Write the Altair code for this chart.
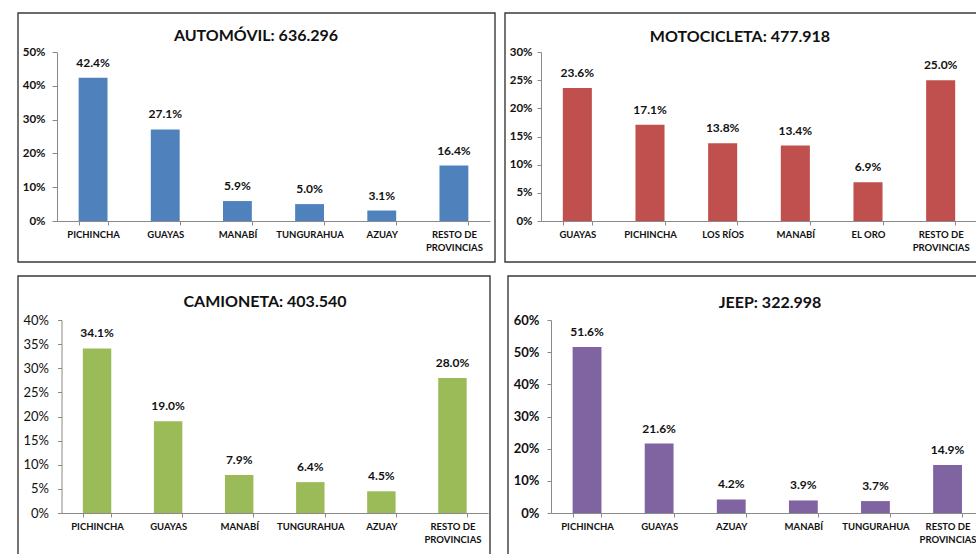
import altair as alt
import pandas as pd

FONT = "Lato"
W, H = 976, 554

# ---- data: share of registered vehicles by province (%) ----
auto_prov = ["PICHINCHA", "GUAYAS", "MANABÍ", "TUNGURAHUA", "AZUAY", "RESTO DE PROVINCIAS"]
auto_pct = [42.4, 27.1, 5.9, 5.0, 3.1, 16.4]

moto_prov = ["GUAYAS", "PICHINCHA", "LOS RÍOS", "MANABÍ", "EL ORO", "RESTO DE PROVINCIAS"]
moto_pct = [23.6, 17.1, 13.8, 13.4, 6.9, 25.0]

cam_prov = ["PICHINCHA", "GUAYAS", "MANABÍ", "TUNGURAHUA", "AZUAY", "RESTO DE PROVINCIAS"]
cam_pct = [34.1, 19.0, 7.9, 6.4, 4.5, 28.0]

jeep_prov = ["PICHINCHA", "GUAYAS", "AZUAY", "MANABÍ", "TUNGURAHUA", "RESTO DE PROVINCIAS"]
jeep_pct = [51.6, 21.6, 4.2, 3.9, 3.7, 14.9]

titles = ["AUTOMÓVIL: 636.296", "MOTOCICLETA: 477.918", "CAMIONETA: 403.540", "JEEP: 322.998"]
y_max = [50, 30, 40, 60]
y_step = [10, 5, 5, 10]

# ---- styling / placement of the four panels inside the page ----
colors = ["#4F81BD", "#C0504D", "#9BBB59", "#8064A2"]
layout = [
    dict(box=(18, 13, 495, 262), plot=(57, 490, 221, 52), title=(256, 41),
         ylab=dict(size=11.5, weight="bold", pad=7, tick=5)),
    dict(box=(505, 13, 1010, 262), plot=(541, 977, 221, 52), title=(740, 42),
         ylab=dict(size=11.5, weight="bold", pad=5, tick=4)),
    dict(box=(18, 276, 490, 600), plot=(61.5, 488, 513, 320), title=(265, 307),
         ylab=dict(size=13, weight="normal", pad=9, tick=4)),
    dict(box=(508, 276, 1010, 600), plot=(551, 983.6, 513, 320), title=(770, 307.5),
         ylab=dict(size=13, weight="bold", pad=8, tick=4)),
]

LABEL_EXPR = ("datum.value == 'RESTO DE PROVINCIAS' ? ['RESTO DE', 'PROVINCIAS'] "
              ": datum.label")


def panel(prov, pct, title, ymax, ystep, color, lay):
    df = pd.DataFrame({"prov": prov, "pct": pct})
    x0, x1, yb, yt = lay["plot"]
    yl = lay["ylab"]

    x = alt.X(
        "prov:N", sort=None, title=None,
        scale=alt.Scale(range=[x0, x1], paddingInner=0.6, paddingOuter=0.3),
        axis=alt.Axis(
            orient="bottom", offset=-(H - yb), labelAngle=0, tickBand="extent",
            labelExpr=LABEL_EXPR, labelFont=FONT, labelFontSize=9.5,
            labelFontWeight="bold", labelColor="#111111", labelPadding=4,
            labelLineHeight=13, labelLimit=200, labelOverlap=False,
            tickSize=4, tickColor="#8a8a8a", domainColor="#8a8a8a", grid=False,
        ),
    )
    y = alt.Y(
        "pct:Q", title=None,
        scale=alt.Scale(domain=[0, ymax], range=[yb, yt], nice=False, zero=True),
        axis=alt.Axis(
            orient="left", offset=-x0, values=list(range(0, ymax + 1, ystep)),
            labelExpr="datum.value + '%'", labelFont=FONT, labelFontSize=yl["size"],
            labelFontWeight=yl["weight"], labelColor="#111111",
            labelPadding=yl["pad"], tickSize=yl["tick"], tickColor="#8a8a8a",
            domainColor="#8a8a8a", grid=False,
        ),
    )

    bars = alt.Chart(df).mark_bar(color=color).encode(x=x, y=y)
    values = (
        alt.Chart(df)
        .transform_calculate(lab="format(datum.pct, '.1f') + '%'")
        .mark_text(font=FONT, fontSize=12, fontWeight="bold", color="#111111",
                   baseline="alphabetic", dy=-11)
        .encode(x=x, y=y, text="lab:N")
    )

    head = pd.DataFrame({"t": [title]})
    bx0, by0, bx1, by1 = lay["box"]
    frame = alt.Chart(head).mark_rect(
        fillOpacity=0, stroke="#3a3a3a", strokeWidth=1.4
    ).encode(x=alt.value(bx0), x2=alt.value(bx1), y=alt.value(by0), y2=alt.value(by1))
    tx, ty = lay["title"]
    heading = alt.Chart(head).mark_text(
        font=FONT, fontSize=16, fontWeight="bold", color="#111111",
        align="center", baseline="alphabetic"
    ).encode(text="t:N", x=alt.value(tx), y=alt.value(ty))

    return alt.layer(frame, heading, bars, values)


panels = [
    panel(auto_prov, auto_pct, titles[0], y_max[0], y_step[0], colors[0], layout[0]),
    panel(moto_prov, moto_pct, titles[1], y_max[1], y_step[1], colors[1], layout[1]),
    panel(cam_prov, cam_pct, titles[2], y_max[2], y_step[2], colors[2], layout[2]),
    panel(jeep_prov, jeep_pct, titles[3], y_max[3], y_step[3], colors[3], layout[3]),
]

chart = (
    alt.layer(*panels)
    .resolve_scale(x="independent", y="independent")
    .resolve_axis(x="independent", y="independent")
    .properties(width=W, height=H, autosize=alt.AutoSizeParams(type="none"),
                padding=0, background="white")
    .configure_view(stroke=None)
)

chart.save("out.html", embed_options={"renderer": "svg", "actions": False})
